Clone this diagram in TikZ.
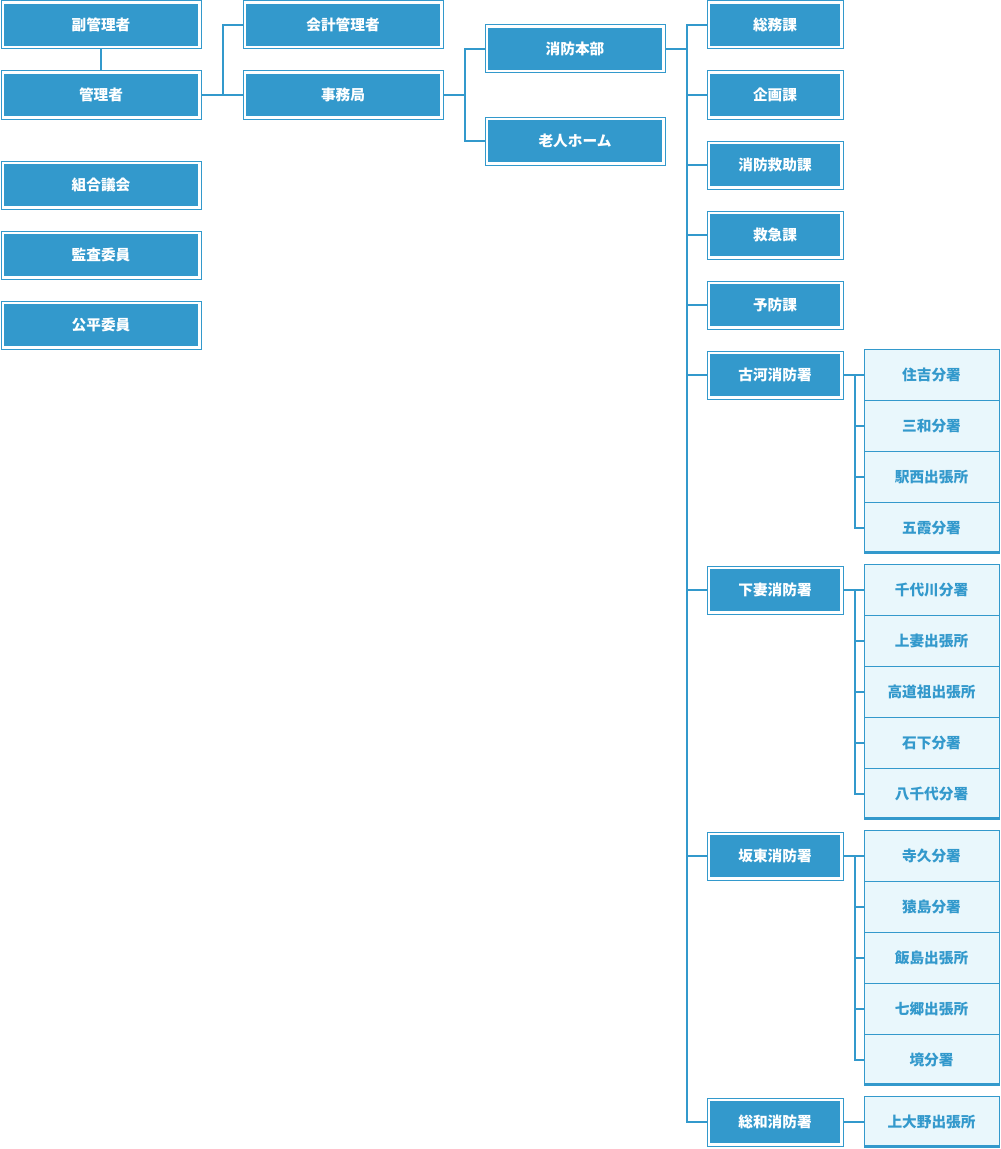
\documentclass[tikz,border=0pt]{standalone}
\usepackage{fontspec}
\setmainfont{Noto Sans CJK JP}
\definecolor{orgblue}{HTML}{3399CC}
\definecolor{orglight}{HTML}{E9F7FC}
\begin{document}
\begin{tikzpicture}[x=0.75pt,y=-0.75pt,
  unitbox/.style={rectangle, draw=orgblue, line width=0.75pt, fill=white,
    text=white, font=\fontsize{11}{12}\selectfont\bfseries, minimum height=36pt,
    path picture={\fill[orgblue] ([shift={(1.9pt,-1.9pt)}]path picture bounding box.north west)
      rectangle ([shift={(-1.9pt,1.9pt)}]path picture bounding box.south east);}},
  subbox/.style={rectangle, draw=orgblue, line width=0.75pt, fill=orglight,
    text=orgblue, font=\fontsize{11}{12}\selectfont\bfseries,
    minimum width=101.25pt, minimum height=38.25pt},
  lastsub/.style={subbox, path picture={\fill[orgblue] (path picture bounding box.south west)
      rectangle ([yshift=2.2pt]path picture bounding box.south east);}},
  link/.style={draw=orgblue, line width=1.5pt}]
\useasboundingbox (0,0) rectangle (1000,1149);
% Left column
\node[unitbox, minimum width=150pt] (fukukanri) at (101,25) {副管理者};
\node[unitbox, minimum width=150pt] (kanri) at (101,95) {管理者};
\node[unitbox, minimum width=150pt] (gikai) at (101,185) {組合議会};
\node[unitbox, minimum width=150pt] (kansa) at (101,255) {監査委員};
\node[unitbox, minimum width=150pt] (kohei) at (101,325) {公平委員};
% Second column
\node[unitbox, minimum width=150pt] (kaikei) at (343,25) {会計管理者};
\node[unitbox, minimum width=150pt] (jimu) at (343,95) {事務局};
% Third column
\node[unitbox, minimum width=135pt] (honbu) at (575,49) {消防本部};
\node[unitbox, minimum width=135pt] (home) at (575,141) {老人ホーム};
% Sections and stations
\foreach \name/\y/\txt in {soumu/25/総務課, kikaku/95/企画課, kyujo/165/消防救助課,
    kyukyu/235/救急課, yobo/305/予防課, koga/375/古河消防署,
    shimotsuma/590/下妻消防署, bando/856/坂東消防署, sowa/1122/総和消防署}
  \node[unitbox, minimum width=102pt] (\name) at (775,\y) {\txt};
% Branch offices
\foreach \i/\txt in {0/住吉分署, 1/三和分署, 2/駅西出張所}
  \node[subbox] (koga\i) at (931.5,375+51*\i) {\txt};
\node[lastsub] (koga3) at (931.5,528) {五霞分署};
\foreach \i/\txt in {0/千代川分署, 1/上妻出張所, 2/高道祖出張所, 3/石下分署}
  \node[subbox] (shimotsuma\i) at (931.5,590+51*\i) {\txt};
\node[lastsub] (shimotsuma4) at (931.5,794) {八千代分署};
\foreach \i/\txt in {0/寺久分署, 1/猿島分署, 2/飯島出張所, 3/七郷出張所}
  \node[subbox] (bando\i) at (931.5,856+51*\i) {\txt};
\node[lastsub] (bando4) at (931.5,1060) {境分署};
\node[lastsub] (sowa0) at (931.5,1122) {上大野出張所};
% Connectors
\draw[link] (fukukanri) -- (kanri);
\draw[link] (kanri.east) -- ++(21,0) |- (kaikei.west);
\draw[link] (kanri.east) -- (jimu.west);
\draw[link] (jimu.east) -- ++(21,0) |- (honbu.west);
\draw[link] (jimu.east) -- ++(21,0) |- (home.west);
\foreach \name in {soumu, kikaku, kyujo, kyukyu, yobo, koga, shimotsuma, bando, sowa}
  \draw[link] (honbu.east) -- ++(21,0) |- (\name.west);
\foreach \i in {0,...,3}
  \draw[link] (koga.east) -- ++(11,0) |- (koga\i.west);
\foreach \i in {0,...,4}
  \draw[link] (shimotsuma.east) -- ++(11,0) |- (shimotsuma\i.west);
\foreach \i in {0,...,4}
  \draw[link] (bando.east) -- ++(11,0) |- (bando\i.west);
\draw[link] (sowa.east) -- (sowa0.west);
\end{tikzpicture}
\end{document}
